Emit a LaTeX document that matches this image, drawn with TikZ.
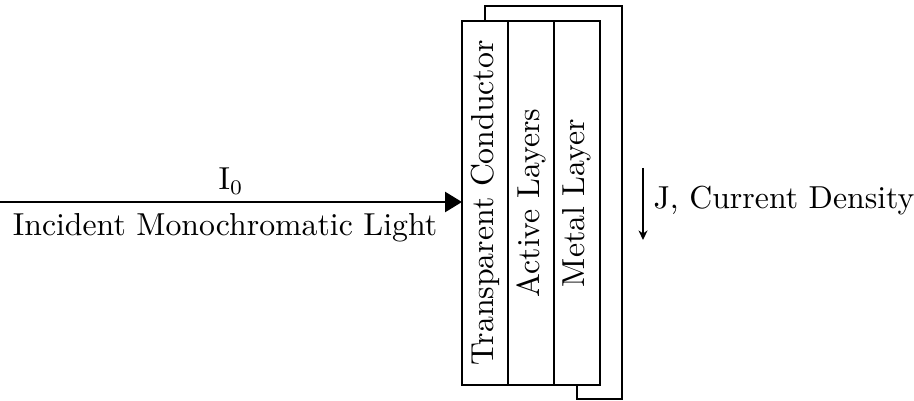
\documentclass[tikz,border=0pt]{standalone}
\usetikzlibrary{arrows.meta}
\begin{document}
\begin{tikzpicture}[x=0.3367pt,y=-0.3367pt,
  layer/.style={draw,line width=0.9pt,minimum width=46*0.3367pt,minimum height=364*0.3367pt,inner sep=0pt,outer sep=0pt},
  wire/.style={line width=0.9pt},
  lbl/.style={font=\fontsize{10.7pt}{13pt}\selectfont,inner sep=0pt},
  ]
\useasboundingbox (0,0) rectangle (914,401);
\node[layer] (tc) at (485,203) {};
\node[layer] (al) at (531,203) {};
\node[layer] (ml) at (577,203) {};
\node[lbl,rotate=90] at (tc.center) {Transparent Conductor};
\node[lbl,rotate=90] at (al.center) {Active Layers};
\node[lbl,rotate=90] at (ml.center) {Metal Layer};
\coordinate (w1) at (622,6);
\coordinate (w2) at (622,399);
\draw[wire] (tc.north) |- (w1) -- (w2) -| (ml.south);
\coordinate (src) at (0,202);
\draw[wire,-{Triangle[length=5.7pt,width=6.7pt]}] (src) -- (tc.west |- src) coordinate (lt);
\node[lbl,anchor=base] (i0) at (231,190) {I$_0$};
\node[lbl,anchor=base] (inc) at (225,236) {Incident Monochromatic Light};
\coordinate (j1) at (643,168);
\coordinate (j2) at (643,240);
\draw[wire,-{Stealth[length=3.2pt,width=3pt,inset=1pt]}] (j1) -- (j2);
\node[lbl,anchor=base west] (jl) at (653,209) {J, Current Density};
\end{tikzpicture}
\end{document}
